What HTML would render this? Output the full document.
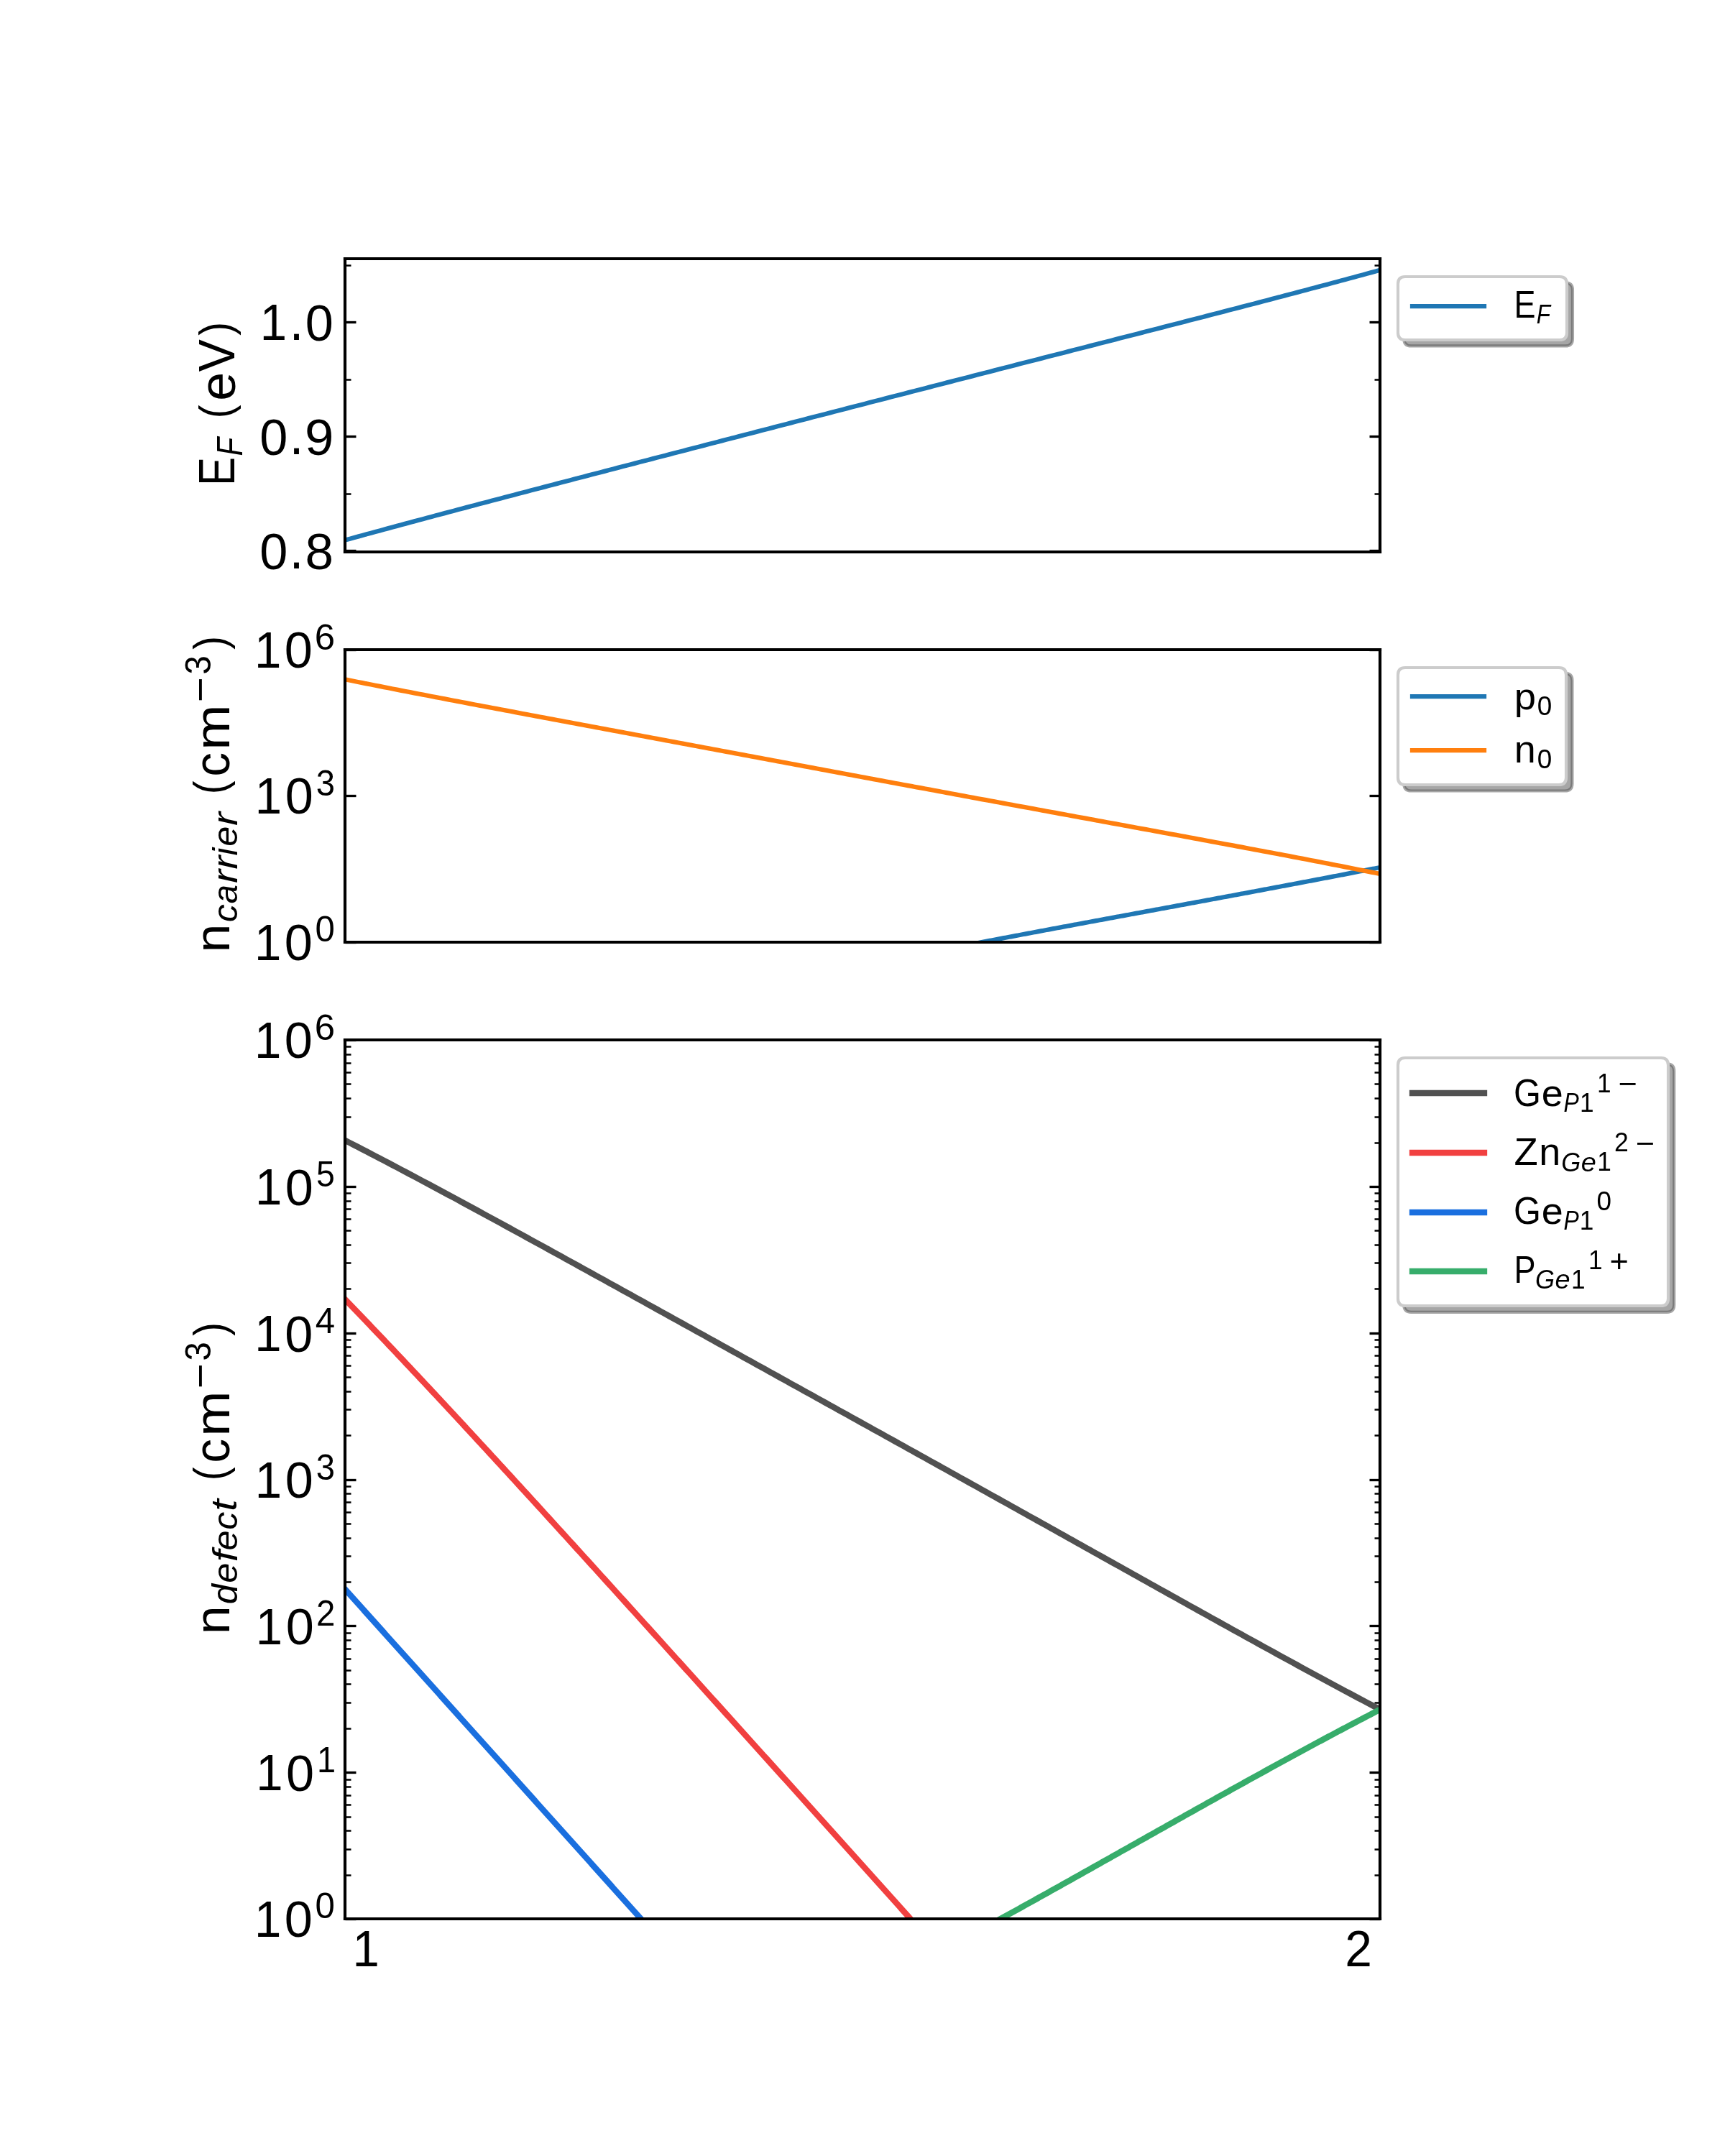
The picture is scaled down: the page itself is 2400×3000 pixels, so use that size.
<!DOCTYPE html>
<html lang="en"><head><meta charset="utf-8"><title>Fermi level, carrier and defect concentrations</title>
<style>
html,body{margin:0;padding:0;background:#fff;width:2400px;height:3000px;overflow:hidden}
body{position:relative}
svg{display:block;position:absolute;left:0;top:0}
#labels{will-change:transform}
text{font-family:"Liberation Sans",sans-serif}
</style>
</head><body>
<svg id="plot" xmlns="http://www.w3.org/2000/svg" width="2400" height="3000" viewBox="0 0 2400 3000">
<rect width="2400" height="3000" fill="#fff"/>
<defs><clipPath id="c0"><rect x="480" y="360" width="1440" height="408"/></clipPath><clipPath id="c1"><rect x="480" y="904" width="1440" height="407"/></clipPath><clipPath id="c2"><rect x="480" y="1447" width="1440" height="1223"/></clipPath></defs>
<path d="M480.5 766.5L495.5 766.5" fill="none" stroke="#000000" stroke-width="3.333"/>
<path d="M1920.5 766.5L1905.5 766.5" fill="none" stroke="#000000" stroke-width="3.333"/>
<path d="M480.5 607.5L495.5 607.5" fill="none" stroke="#000000" stroke-width="3.333"/>
<path d="M1920.5 607.5L1905.5 607.5" fill="none" stroke="#000000" stroke-width="3.333"/>
<path d="M480.5 448.5L495.5 448.5" fill="none" stroke="#000000" stroke-width="3.333"/>
<path d="M1920.5 448.5L1905.5 448.5" fill="none" stroke="#000000" stroke-width="3.333"/>
<path d="M480.5 687.5L488.5 687.5" fill="none" stroke="#000000" stroke-width="2.5"/>
<path d="M1920.5 687.5L1912.5 687.5" fill="none" stroke="#000000" stroke-width="2.5"/>
<path d="M480.5 528.5L488.5 528.5" fill="none" stroke="#000000" stroke-width="2.5"/>
<path d="M1920.5 528.5L1912.5 528.5" fill="none" stroke="#000000" stroke-width="2.5"/>
<path d="M480.5 369.5L488.5 369.5" fill="none" stroke="#000000" stroke-width="2.5"/>
<path d="M1920.5 369.5L1912.5 369.5" fill="none" stroke="#000000" stroke-width="2.5"/>
<path d="M480 751.581L486.025 749.922L492.05 748.266L498.075 746.613L504.1 744.964L510.126 743.317L516.151 741.674L522.176 740.034L528.201 738.396L534.226 736.761L540.251 735.129L546.276 733.499L552.301 731.873L558.326 730.248L564.351 728.626L570.377 727.006L576.402 725.388L582.427 723.773L588.452 722.16L594.477 720.548L600.502 718.939L606.527 717.332L612.552 715.726L618.577 714.123L624.603 712.521L630.628 710.92L636.653 709.321L642.678 707.724L648.703 706.129L654.728 704.534L660.753 702.941L666.778 701.35L672.803 699.76L678.828 698.171L684.854 696.583L690.879 694.997L696.904 693.411L702.929 691.827L708.954 690.243L714.979 688.661L721.004 687.08L727.029 685.499L733.054 683.92L739.079 682.341L745.105 680.763L751.13 679.186L757.155 677.61L763.18 676.034L769.205 674.459L775.23 672.885L781.255 671.311L787.28 669.738L793.305 668.165L799.331 666.593L805.356 665.022L811.381 663.451L817.406 661.88L823.431 660.31L829.456 658.741L835.481 657.172L841.506 655.603L847.531 654.035L853.556 652.467L859.582 650.899L865.607 649.332L871.632 647.765L877.657 646.198L883.682 644.632L889.707 643.066L895.732 641.5L901.757 639.934L907.782 638.369L913.808 636.804L919.833 635.239L925.858 633.675L931.883 632.11L937.908 630.546L943.933 628.982L949.958 627.418L955.983 625.855L962.008 624.291L968.033 622.728L974.059 621.165L980.084 619.602L986.109 618.039L992.134 616.477L998.159 614.914L1004.184 613.352L1010.209 611.79L1016.234 610.228L1022.259 608.667L1028.285 607.105L1034.31 605.544L1040.335 603.983L1046.36 602.421L1052.385 600.861L1058.41 599.3L1064.435 597.739L1070.46 596.179L1076.485 594.619L1082.51 593.059L1088.536 591.499L1094.561 589.939L1100.586 588.38L1106.611 586.821L1112.636 585.262L1118.661 583.703L1124.686 582.144L1130.711 580.586L1136.736 579.027L1142.762 577.469L1148.787 575.912L1154.812 574.354L1160.837 572.797L1166.862 571.24L1172.887 569.683L1178.912 568.126L1184.937 566.57L1190.962 565.014L1196.987 563.458L1203.013 561.902L1209.038 560.347L1215.063 558.792L1221.088 557.237L1227.113 555.683L1233.138 554.128L1239.163 552.575L1245.188 551.021L1251.213 549.468L1257.238 547.914L1263.264 546.362L1269.289 544.809L1275.314 543.257L1281.339 541.705L1287.364 540.154L1293.389 538.602L1299.414 537.052L1305.439 535.501L1311.464 533.951L1317.49 532.401L1323.515 530.851L1329.54 529.302L1335.565 527.752L1341.59 526.204L1347.615 524.655L1353.64 523.107L1359.665 521.559L1365.69 520.012L1371.715 518.464L1377.741 516.917L1383.766 515.37L1389.791 513.824L1395.816 512.278L1401.841 510.732L1407.866 509.186L1413.891 507.641L1419.916 506.095L1425.941 504.55L1431.967 503.005L1437.992 501.461L1444.017 499.916L1450.042 498.372L1456.067 496.828L1462.092 495.284L1468.117 493.74L1474.142 492.197L1480.167 490.653L1486.192 489.11L1492.218 487.566L1498.243 486.023L1504.268 484.48L1510.293 482.936L1516.318 481.393L1522.343 479.85L1528.368 478.306L1534.393 476.763L1540.418 475.219L1546.444 473.675L1552.469 472.132L1558.494 470.587L1564.519 469.043L1570.544 467.499L1576.569 465.954L1582.594 464.409L1588.619 462.863L1594.644 461.317L1600.669 459.771L1606.695 458.224L1612.72 456.677L1618.745 455.13L1624.77 453.581L1630.795 452.032L1636.82 450.483L1642.845 448.933L1648.87 447.382L1654.895 445.83L1660.921 444.278L1666.946 442.724L1672.971 441.17L1678.996 439.614L1685.021 438.058L1691.046 436.501L1697.071 434.942L1703.096 433.382L1709.121 431.821L1715.146 430.259L1721.172 428.695L1727.197 427.13L1733.222 425.563L1739.247 423.995L1745.272 422.425L1751.297 420.854L1757.322 419.28L1763.347 417.705L1769.372 416.128L1775.397 414.549L1781.423 412.968L1787.448 411.384L1793.473 409.799L1799.498 408.211L1805.523 406.621L1811.548 405.028L1817.573 403.433L1823.598 401.835L1829.623 400.235L1835.649 398.631L1841.674 397.025L1847.699 395.416L1853.724 393.803L1859.749 392.188L1865.774 390.569L1871.799 388.946L1877.824 387.32L1883.849 385.691L1889.874 384.058L1895.9 382.421L1901.925 380.78L1907.95 379.135L1913.975 377.486L1920 375.832" fill="none" stroke="#1f77b4" stroke-width="6.25" stroke-linecap="square" stroke-linejoin="round" clip-path="url(#c0)"/>
<path d="M480 768L480 360" fill="none" stroke="#000000" stroke-width="4.167" stroke-linecap="square"/>
<path d="M1920 768L1920 360" fill="none" stroke="#000000" stroke-width="4.167" stroke-linecap="square"/>
<path d="M480 768L1920 768" fill="none" stroke="#000000" stroke-width="4.167" stroke-linecap="square"/>
<path d="M480 360L1920 360" fill="none" stroke="#000000" stroke-width="4.167" stroke-linecap="square"/>
<path d="M1963.333 481.433L2177.945 481.433Q2187.945 481.433 2187.945 471.433L2187.945 403.333Q2187.945 393.333 2177.945 393.333L1963.333 393.333Q1953.333 393.333 1953.333 403.333L1953.333 471.433Q1953.333 481.433 1963.333 481.433Z" fill="#4d4d4d" fill-opacity="0.5" stroke="#4d4d4d" stroke-width="4.167" stroke-opacity="0.5"/>
<path d="M1955 473L2170 473Q2180 473 2180 463L2180 395Q2180 385 2170 385L1955 385Q1945 385 1945 395L1945 463Q1945 473 1955 473Z" fill="#ffffff" stroke="#cccccc" stroke-width="4.167"/>
<path d="M1965 426L2015 426L2065 426" fill="none" stroke="#1f77b4" stroke-width="6.25" stroke-linecap="square" stroke-linejoin="round"/>
<path d="M480.5 1311.5L495.5 1311.5" fill="none" stroke="#000000" stroke-width="3.333"/>
<path d="M1920.5 1311.5L1905.5 1311.5" fill="none" stroke="#000000" stroke-width="3.333"/>
<path d="M480.5 1107.5L495.5 1107.5" fill="none" stroke="#000000" stroke-width="3.333"/>
<path d="M1920.5 1107.5L1905.5 1107.5" fill="none" stroke="#000000" stroke-width="3.333"/>
<path d="M480.5 904.5L495.5 904.5" fill="none" stroke="#000000" stroke-width="3.333"/>
<path d="M1920.5 904.5L1905.5 904.5" fill="none" stroke="#000000" stroke-width="3.333"/>
<path d="M1330 1317.886L1332.469 1317.411L1334.937 1316.937L1337.406 1316.462L1339.874 1315.988L1342.343 1315.514L1344.812 1315.041L1347.28 1314.568L1349.749 1314.096L1352.218 1313.623L1354.686 1313.151L1357.155 1312.679L1359.623 1312.208L1362.092 1311.737L1364.561 1311.266L1367.029 1310.796L1369.498 1310.326L1371.967 1309.856L1374.435 1309.386L1376.904 1308.917L1379.372 1308.448L1381.841 1307.979L1384.31 1307.511L1386.778 1307.043L1389.247 1306.575L1391.715 1306.108L1394.184 1305.64L1396.653 1305.173L1399.121 1304.706L1401.59 1304.24L1404.059 1303.774L1406.527 1303.308L1408.996 1302.842L1411.464 1302.377L1413.933 1301.911L1416.402 1301.446L1418.87 1300.982L1421.339 1300.517L1423.808 1300.053L1426.276 1299.589L1428.745 1299.125L1431.213 1298.661L1433.682 1298.198L1436.151 1297.735L1438.619 1297.272L1441.088 1296.809L1443.556 1296.347L1446.025 1295.884L1448.494 1295.422L1450.962 1294.96L1453.431 1294.498L1455.9 1294.037L1458.368 1293.575L1460.837 1293.114L1463.305 1292.653L1465.774 1292.192L1468.243 1291.732L1470.711 1291.271L1473.18 1290.811L1475.649 1290.351L1478.117 1289.891L1480.586 1289.431L1483.054 1288.971L1485.523 1288.512L1487.992 1288.053L1490.46 1287.593L1492.929 1287.134L1495.397 1286.675L1497.866 1286.216L1500.335 1285.758L1502.803 1285.299L1505.272 1284.841L1507.741 1284.382L1510.209 1283.924L1512.678 1283.466L1515.146 1283.008L1517.615 1282.55L1520.084 1282.093L1522.552 1281.635L1525.021 1281.178L1527.49 1280.72L1529.958 1280.263L1532.427 1279.805L1534.895 1279.348L1537.364 1278.891L1539.833 1278.434L1542.301 1277.977L1544.77 1277.52L1547.238 1277.064L1549.707 1276.607L1552.176 1276.15L1554.644 1275.694L1557.113 1275.237L1559.582 1274.781L1562.05 1274.324L1564.519 1273.868L1566.987 1273.411L1569.456 1272.955L1571.925 1272.499L1574.393 1272.043L1576.862 1271.586L1579.331 1271.13L1581.799 1270.674L1584.268 1270.218L1586.736 1269.762L1589.205 1269.306L1591.674 1268.85L1594.142 1268.394L1596.611 1267.938L1599.079 1267.482L1601.548 1267.026L1604.017 1266.569L1606.485 1266.113L1608.954 1265.657L1611.423 1265.201L1613.891 1264.745L1616.36 1264.289L1618.828 1263.833L1621.297 1263.377L1623.766 1262.92L1626.234 1262.464L1628.703 1262.008L1631.172 1261.552L1633.64 1261.095L1636.109 1260.639L1638.577 1260.182L1641.046 1259.726L1643.515 1259.269L1645.983 1258.813L1648.452 1258.356L1650.921 1257.899L1653.389 1257.442L1655.858 1256.985L1658.326 1256.528L1660.795 1256.071L1663.264 1255.614L1665.732 1255.157L1668.201 1254.7L1670.669 1254.242L1673.138 1253.785L1675.607 1253.327L1678.075 1252.87L1680.544 1252.412L1683.013 1251.954L1685.481 1251.496L1687.95 1251.038L1690.418 1250.579L1692.887 1250.121L1695.356 1249.663L1697.824 1249.204L1700.293 1248.745L1702.762 1248.286L1705.23 1247.827L1707.699 1247.368L1710.167 1246.909L1712.636 1246.449L1715.105 1245.99L1717.573 1245.53L1720.042 1245.07L1722.51 1244.61L1724.979 1244.15L1727.448 1243.689L1729.916 1243.229L1732.385 1242.768L1734.854 1242.307L1737.322 1241.846L1739.791 1241.385L1742.259 1240.923L1744.728 1240.462L1747.197 1240L1749.665 1239.538L1752.134 1239.076L1754.603 1238.613L1757.071 1238.15L1759.54 1237.688L1762.008 1237.225L1764.477 1236.761L1766.946 1236.298L1769.414 1235.834L1771.883 1235.37L1774.351 1234.906L1776.82 1234.441L1779.289 1233.977L1781.757 1233.512L1784.226 1233.047L1786.695 1232.581L1789.163 1232.116L1791.632 1231.65L1794.1 1231.184L1796.569 1230.718L1799.038 1230.251L1801.506 1229.784L1803.975 1229.317L1806.444 1228.849L1808.912 1228.382L1811.381 1227.914L1813.849 1227.445L1816.318 1226.977L1818.787 1226.508L1821.255 1226.039L1823.724 1225.57L1826.192 1225.1L1828.661 1224.63L1831.13 1224.16L1833.598 1223.689L1836.067 1223.218L1838.536 1222.747L1841.004 1222.275L1843.473 1221.803L1845.941 1221.331L1848.41 1220.859L1850.879 1220.386L1853.347 1219.913L1855.816 1219.439L1858.285 1218.965L1860.753 1218.491L1863.222 1218.017L1865.69 1217.542L1868.159 1217.066L1870.628 1216.591L1873.096 1216.115L1875.565 1215.639L1878.033 1215.162L1880.502 1214.685L1882.971 1214.207L1885.439 1213.73L1887.908 1213.252L1890.377 1212.773L1892.845 1212.294L1895.314 1211.815L1897.782 1211.335L1900.251 1210.855L1902.72 1210.375L1905.188 1209.894L1907.657 1209.412L1910.126 1208.931L1912.594 1208.449L1915.063 1207.966L1917.531 1207.483L1920 1207" fill="none" stroke="#1f77b4" stroke-width="6.25" stroke-linecap="square" stroke-linejoin="round" clip-path="url(#c1)"/>
<path d="M480 945.333L486.025 946.543L492.05 947.75L498.075 948.954L504.1 950.154L510.126 951.35L516.151 952.543L522.176 953.734L528.201 954.921L534.226 956.105L540.251 957.286L546.276 958.465L552.301 959.641L558.326 960.814L564.351 961.985L570.377 963.154L576.402 964.32L582.427 965.484L588.452 966.646L594.477 967.806L600.502 968.963L606.527 970.119L612.552 971.274L618.577 972.426L624.603 973.577L630.628 974.726L636.653 975.874L642.678 977.02L648.703 978.165L654.728 979.308L660.753 980.45L666.778 981.591L672.803 982.731L678.828 983.87L684.854 985.008L690.879 986.144L696.904 987.28L702.929 988.415L708.954 989.549L714.979 990.682L721.004 991.815L727.029 992.947L733.054 994.078L739.079 995.208L745.105 996.338L751.13 997.467L757.155 998.596L763.18 999.725L769.205 1000.853L775.23 1001.98L781.255 1003.107L787.28 1004.234L793.305 1005.361L799.331 1006.487L805.356 1007.613L811.381 1008.739L817.406 1009.864L823.431 1010.989L829.456 1012.115L835.481 1013.24L841.506 1014.365L847.531 1015.489L853.556 1016.614L859.582 1017.739L865.607 1018.863L871.632 1019.988L877.657 1021.112L883.682 1022.237L889.707 1023.361L895.732 1024.486L901.757 1025.61L907.782 1026.735L913.808 1027.859L919.833 1028.984L925.858 1030.108L931.883 1031.233L937.908 1032.358L943.933 1033.482L949.958 1034.607L955.983 1035.732L962.008 1036.857L968.033 1037.982L974.059 1039.107L980.084 1040.232L986.109 1041.357L992.134 1042.483L998.159 1043.608L1004.184 1044.733L1010.209 1045.859L1016.234 1046.984L1022.259 1048.11L1028.285 1049.235L1034.31 1050.361L1040.335 1051.486L1046.36 1052.612L1052.385 1053.738L1058.41 1054.863L1064.435 1055.989L1070.46 1057.115L1076.485 1058.24L1082.51 1059.366L1088.536 1060.491L1094.561 1061.617L1100.586 1062.742L1106.611 1063.868L1112.636 1064.993L1118.661 1066.118L1124.686 1067.244L1130.711 1068.369L1136.736 1069.494L1142.762 1070.619L1148.787 1071.743L1154.812 1072.868L1160.837 1073.992L1166.862 1075.117L1172.887 1076.241L1178.912 1077.365L1184.937 1078.488L1190.962 1079.612L1196.987 1080.735L1203.013 1081.858L1209.038 1082.981L1215.063 1084.104L1221.088 1085.226L1227.113 1086.348L1233.138 1087.47L1239.163 1088.591L1245.188 1089.713L1251.213 1090.834L1257.238 1091.954L1263.264 1093.075L1269.289 1094.195L1275.314 1095.314L1281.339 1096.434L1287.364 1097.552L1293.389 1098.671L1299.414 1099.789L1305.439 1100.907L1311.464 1102.025L1317.49 1103.142L1323.515 1104.259L1329.54 1105.375L1335.565 1106.491L1341.59 1107.606L1347.615 1108.722L1353.64 1109.836L1359.665 1110.951L1365.69 1112.065L1371.715 1113.178L1377.741 1114.292L1383.766 1115.404L1389.791 1116.517L1395.816 1117.629L1401.841 1118.741L1407.866 1119.852L1413.891 1120.963L1419.916 1122.073L1425.941 1123.184L1431.967 1124.293L1437.992 1125.403L1444.017 1126.512L1450.042 1127.621L1456.067 1128.729L1462.092 1129.837L1468.117 1130.945L1474.142 1132.053L1480.167 1133.16L1486.192 1134.268L1492.218 1135.374L1498.243 1136.481L1504.268 1137.588L1510.293 1138.694L1516.318 1139.8L1522.343 1140.906L1528.368 1142.012L1534.393 1143.118L1540.418 1144.224L1546.444 1145.33L1552.469 1146.436L1558.494 1147.542L1564.519 1148.648L1570.544 1149.754L1576.569 1150.86L1582.594 1151.967L1588.619 1153.074L1594.644 1154.18L1600.669 1155.288L1606.695 1156.395L1612.72 1157.503L1618.745 1158.611L1624.77 1159.72L1630.795 1160.829L1636.82 1161.939L1642.845 1163.05L1648.87 1164.161L1654.895 1165.273L1660.921 1166.385L1666.946 1167.499L1672.971 1168.613L1678.996 1169.728L1685.021 1170.845L1691.046 1171.962L1697.071 1173.081L1703.096 1174.2L1709.121 1175.321L1715.146 1176.443L1721.172 1177.567L1727.197 1178.692L1733.222 1179.819L1739.247 1180.947L1745.272 1182.078L1751.297 1183.209L1757.322 1184.343L1763.347 1185.479L1769.372 1186.617L1775.397 1187.757L1781.423 1188.899L1787.448 1190.043L1793.473 1191.19L1799.498 1192.34L1805.523 1193.492L1811.548 1194.646L1817.573 1195.804L1823.598 1196.965L1829.623 1198.128L1835.649 1199.295L1841.674 1200.465L1847.699 1201.638L1853.724 1202.815L1859.749 1203.995L1865.774 1205.18L1871.799 1206.368L1877.824 1207.559L1883.849 1208.756L1889.874 1209.956L1895.9 1211.161L1901.925 1212.37L1907.95 1213.584L1913.975 1214.802L1920 1216.026" fill="none" stroke="#ff7f0e" stroke-width="6.25" stroke-linecap="square" stroke-linejoin="round" clip-path="url(#c1)"/>
<path d="M480 1311L480 904" fill="none" stroke="#000000" stroke-width="4.167" stroke-linecap="square"/>
<path d="M1920 1311L1920 904" fill="none" stroke="#000000" stroke-width="4.167" stroke-linecap="square"/>
<path d="M480 1311L1920 1311" fill="none" stroke="#000000" stroke-width="4.167" stroke-linecap="square"/>
<path d="M480 904L1920 904" fill="none" stroke="#000000" stroke-width="4.167" stroke-linecap="square"/>
<path d="M1963.333 1100.463L2177.419 1100.463Q2187.419 1100.463 2187.419 1090.463L2187.419 946.863Q2187.419 936.863 2177.419 936.863L1963.333 936.863Q1953.333 936.863 1953.333 946.863L1953.333 1090.463Q1953.333 1100.463 1963.333 1100.463Z" fill="#4d4d4d" fill-opacity="0.5" stroke="#4d4d4d" stroke-width="4.167" stroke-opacity="0.5"/>
<path d="M1955 1092L2169 1092Q2179 1092 2179 1082L2179 939Q2179 929 2169 929L1955 929Q1945 929 1945 939L1945 1082Q1945 1092 1955 1092Z" fill="#ffffff" stroke="#cccccc" stroke-width="4.167"/>
<path d="M1965 969L2015 969L2065 969" fill="none" stroke="#1f77b4" stroke-width="6.25" stroke-linecap="square" stroke-linejoin="round"/>
<path d="M1965 1044L2015 1044L2065 1044" fill="none" stroke="#ff7f0e" stroke-width="6.25" stroke-linecap="square" stroke-linejoin="round"/>
<path d="M480.5 2670.5L495.5 2670.5" fill="none" stroke="#000000" stroke-width="3.333"/>
<path d="M1920.5 2670.5L1905.5 2670.5" fill="none" stroke="#000000" stroke-width="3.333"/>
<path d="M480.5 2466.5L495.5 2466.5" fill="none" stroke="#000000" stroke-width="3.333"/>
<path d="M1920.5 2466.5L1905.5 2466.5" fill="none" stroke="#000000" stroke-width="3.333"/>
<path d="M480.5 2262.5L495.5 2262.5" fill="none" stroke="#000000" stroke-width="3.333"/>
<path d="M1920.5 2262.5L1905.5 2262.5" fill="none" stroke="#000000" stroke-width="3.333"/>
<path d="M480.5 2059.5L495.5 2059.5" fill="none" stroke="#000000" stroke-width="3.333"/>
<path d="M1920.5 2059.5L1905.5 2059.5" fill="none" stroke="#000000" stroke-width="3.333"/>
<path d="M480.5 1855.5L495.5 1855.5" fill="none" stroke="#000000" stroke-width="3.333"/>
<path d="M1920.5 1855.5L1905.5 1855.5" fill="none" stroke="#000000" stroke-width="3.333"/>
<path d="M480.5 1651.5L495.5 1651.5" fill="none" stroke="#000000" stroke-width="3.333"/>
<path d="M1920.5 1651.5L1905.5 1651.5" fill="none" stroke="#000000" stroke-width="3.333"/>
<path d="M480.5 1447.5L495.5 1447.5" fill="none" stroke="#000000" stroke-width="3.333"/>
<path d="M1920.5 1447.5L1905.5 1447.5" fill="none" stroke="#000000" stroke-width="3.333"/>
<path d="M480.5 2609.5L488.5 2609.5" fill="none" stroke="#000000" stroke-width="2.5"/>
<path d="M1920.5 2609.5L1912.5 2609.5" fill="none" stroke="#000000" stroke-width="2.5"/>
<path d="M480.5 2573.5L488.5 2573.5" fill="none" stroke="#000000" stroke-width="2.5"/>
<path d="M1920.5 2573.5L1912.5 2573.5" fill="none" stroke="#000000" stroke-width="2.5"/>
<path d="M480.5 2547.5L488.5 2547.5" fill="none" stroke="#000000" stroke-width="2.5"/>
<path d="M1920.5 2547.5L1912.5 2547.5" fill="none" stroke="#000000" stroke-width="2.5"/>
<path d="M480.5 2528.5L488.5 2528.5" fill="none" stroke="#000000" stroke-width="2.5"/>
<path d="M1920.5 2528.5L1912.5 2528.5" fill="none" stroke="#000000" stroke-width="2.5"/>
<path d="M480.5 2511.5L488.5 2511.5" fill="none" stroke="#000000" stroke-width="2.5"/>
<path d="M1920.5 2511.5L1912.5 2511.5" fill="none" stroke="#000000" stroke-width="2.5"/>
<path d="M480.5 2498.5L488.5 2498.5" fill="none" stroke="#000000" stroke-width="2.5"/>
<path d="M1920.5 2498.5L1912.5 2498.5" fill="none" stroke="#000000" stroke-width="2.5"/>
<path d="M480.5 2486.5L488.5 2486.5" fill="none" stroke="#000000" stroke-width="2.5"/>
<path d="M1920.5 2486.5L1912.5 2486.5" fill="none" stroke="#000000" stroke-width="2.5"/>
<path d="M480.5 2476.5L488.5 2476.5" fill="none" stroke="#000000" stroke-width="2.5"/>
<path d="M1920.5 2476.5L1912.5 2476.5" fill="none" stroke="#000000" stroke-width="2.5"/>
<path d="M480.5 2405.5L488.5 2405.5" fill="none" stroke="#000000" stroke-width="2.5"/>
<path d="M1920.5 2405.5L1912.5 2405.5" fill="none" stroke="#000000" stroke-width="2.5"/>
<path d="M480.5 2369.5L488.5 2369.5" fill="none" stroke="#000000" stroke-width="2.5"/>
<path d="M1920.5 2369.5L1912.5 2369.5" fill="none" stroke="#000000" stroke-width="2.5"/>
<path d="M480.5 2343.5L488.5 2343.5" fill="none" stroke="#000000" stroke-width="2.5"/>
<path d="M1920.5 2343.5L1912.5 2343.5" fill="none" stroke="#000000" stroke-width="2.5"/>
<path d="M480.5 2324.5L488.5 2324.5" fill="none" stroke="#000000" stroke-width="2.5"/>
<path d="M1920.5 2324.5L1912.5 2324.5" fill="none" stroke="#000000" stroke-width="2.5"/>
<path d="M480.5 2308.5L488.5 2308.5" fill="none" stroke="#000000" stroke-width="2.5"/>
<path d="M1920.5 2308.5L1912.5 2308.5" fill="none" stroke="#000000" stroke-width="2.5"/>
<path d="M480.5 2294.5L488.5 2294.5" fill="none" stroke="#000000" stroke-width="2.5"/>
<path d="M1920.5 2294.5L1912.5 2294.5" fill="none" stroke="#000000" stroke-width="2.5"/>
<path d="M480.5 2282.5L488.5 2282.5" fill="none" stroke="#000000" stroke-width="2.5"/>
<path d="M1920.5 2282.5L1912.5 2282.5" fill="none" stroke="#000000" stroke-width="2.5"/>
<path d="M480.5 2272.5L488.5 2272.5" fill="none" stroke="#000000" stroke-width="2.5"/>
<path d="M1920.5 2272.5L1912.5 2272.5" fill="none" stroke="#000000" stroke-width="2.5"/>
<path d="M480.5 2201.5L488.5 2201.5" fill="none" stroke="#000000" stroke-width="2.5"/>
<path d="M1920.5 2201.5L1912.5 2201.5" fill="none" stroke="#000000" stroke-width="2.5"/>
<path d="M480.5 2165.5L488.5 2165.5" fill="none" stroke="#000000" stroke-width="2.5"/>
<path d="M1920.5 2165.5L1912.5 2165.5" fill="none" stroke="#000000" stroke-width="2.5"/>
<path d="M480.5 2140.5L488.5 2140.5" fill="none" stroke="#000000" stroke-width="2.5"/>
<path d="M1920.5 2140.5L1912.5 2140.5" fill="none" stroke="#000000" stroke-width="2.5"/>
<path d="M480.5 2120.5L488.5 2120.5" fill="none" stroke="#000000" stroke-width="2.5"/>
<path d="M1920.5 2120.5L1912.5 2120.5" fill="none" stroke="#000000" stroke-width="2.5"/>
<path d="M480.5 2104.5L488.5 2104.5" fill="none" stroke="#000000" stroke-width="2.5"/>
<path d="M1920.5 2104.5L1912.5 2104.5" fill="none" stroke="#000000" stroke-width="2.5"/>
<path d="M480.5 2090.5L488.5 2090.5" fill="none" stroke="#000000" stroke-width="2.5"/>
<path d="M1920.5 2090.5L1912.5 2090.5" fill="none" stroke="#000000" stroke-width="2.5"/>
<path d="M480.5 2078.5L488.5 2078.5" fill="none" stroke="#000000" stroke-width="2.5"/>
<path d="M1920.5 2078.5L1912.5 2078.5" fill="none" stroke="#000000" stroke-width="2.5"/>
<path d="M480.5 2068.5L488.5 2068.5" fill="none" stroke="#000000" stroke-width="2.5"/>
<path d="M1920.5 2068.5L1912.5 2068.5" fill="none" stroke="#000000" stroke-width="2.5"/>
<path d="M480.5 1997.5L488.5 1997.5" fill="none" stroke="#000000" stroke-width="2.5"/>
<path d="M1920.5 1997.5L1912.5 1997.5" fill="none" stroke="#000000" stroke-width="2.5"/>
<path d="M480.5 1961.5L488.5 1961.5" fill="none" stroke="#000000" stroke-width="2.5"/>
<path d="M1920.5 1961.5L1912.5 1961.5" fill="none" stroke="#000000" stroke-width="2.5"/>
<path d="M480.5 1936.5L488.5 1936.5" fill="none" stroke="#000000" stroke-width="2.5"/>
<path d="M1920.5 1936.5L1912.5 1936.5" fill="none" stroke="#000000" stroke-width="2.5"/>
<path d="M480.5 1916.5L488.5 1916.5" fill="none" stroke="#000000" stroke-width="2.5"/>
<path d="M1920.5 1916.5L1912.5 1916.5" fill="none" stroke="#000000" stroke-width="2.5"/>
<path d="M480.5 1900.5L488.5 1900.5" fill="none" stroke="#000000" stroke-width="2.5"/>
<path d="M1920.5 1900.5L1912.5 1900.5" fill="none" stroke="#000000" stroke-width="2.5"/>
<path d="M480.5 1886.5L488.5 1886.5" fill="none" stroke="#000000" stroke-width="2.5"/>
<path d="M1920.5 1886.5L1912.5 1886.5" fill="none" stroke="#000000" stroke-width="2.5"/>
<path d="M480.5 1874.5L488.5 1874.5" fill="none" stroke="#000000" stroke-width="2.5"/>
<path d="M1920.5 1874.5L1912.5 1874.5" fill="none" stroke="#000000" stroke-width="2.5"/>
<path d="M480.5 1864.5L488.5 1864.5" fill="none" stroke="#000000" stroke-width="2.5"/>
<path d="M1920.5 1864.5L1912.5 1864.5" fill="none" stroke="#000000" stroke-width="2.5"/>
<path d="M480.5 1793.5L488.5 1793.5" fill="none" stroke="#000000" stroke-width="2.5"/>
<path d="M1920.5 1793.5L1912.5 1793.5" fill="none" stroke="#000000" stroke-width="2.5"/>
<path d="M480.5 1757.5L488.5 1757.5" fill="none" stroke="#000000" stroke-width="2.5"/>
<path d="M1920.5 1757.5L1912.5 1757.5" fill="none" stroke="#000000" stroke-width="2.5"/>
<path d="M480.5 1732.5L488.5 1732.5" fill="none" stroke="#000000" stroke-width="2.5"/>
<path d="M1920.5 1732.5L1912.5 1732.5" fill="none" stroke="#000000" stroke-width="2.5"/>
<path d="M480.5 1712.5L488.5 1712.5" fill="none" stroke="#000000" stroke-width="2.5"/>
<path d="M1920.5 1712.5L1912.5 1712.5" fill="none" stroke="#000000" stroke-width="2.5"/>
<path d="M480.5 1696.5L488.5 1696.5" fill="none" stroke="#000000" stroke-width="2.5"/>
<path d="M1920.5 1696.5L1912.5 1696.5" fill="none" stroke="#000000" stroke-width="2.5"/>
<path d="M480.5 1682.5L488.5 1682.5" fill="none" stroke="#000000" stroke-width="2.5"/>
<path d="M1920.5 1682.5L1912.5 1682.5" fill="none" stroke="#000000" stroke-width="2.5"/>
<path d="M480.5 1671.5L488.5 1671.5" fill="none" stroke="#000000" stroke-width="2.5"/>
<path d="M1920.5 1671.5L1912.5 1671.5" fill="none" stroke="#000000" stroke-width="2.5"/>
<path d="M480.5 1660.5L488.5 1660.5" fill="none" stroke="#000000" stroke-width="2.5"/>
<path d="M1920.5 1660.5L1912.5 1660.5" fill="none" stroke="#000000" stroke-width="2.5"/>
<path d="M480.5 1590.5L488.5 1590.5" fill="none" stroke="#000000" stroke-width="2.5"/>
<path d="M1920.5 1590.5L1912.5 1590.5" fill="none" stroke="#000000" stroke-width="2.5"/>
<path d="M480.5 1554.5L488.5 1554.5" fill="none" stroke="#000000" stroke-width="2.5"/>
<path d="M1920.5 1554.5L1912.5 1554.5" fill="none" stroke="#000000" stroke-width="2.5"/>
<path d="M480.5 1528.5L488.5 1528.5" fill="none" stroke="#000000" stroke-width="2.5"/>
<path d="M1920.5 1528.5L1912.5 1528.5" fill="none" stroke="#000000" stroke-width="2.5"/>
<path d="M480.5 1508.5L488.5 1508.5" fill="none" stroke="#000000" stroke-width="2.5"/>
<path d="M1920.5 1508.5L1912.5 1508.5" fill="none" stroke="#000000" stroke-width="2.5"/>
<path d="M480.5 1492.5L488.5 1492.5" fill="none" stroke="#000000" stroke-width="2.5"/>
<path d="M1920.5 1492.5L1912.5 1492.5" fill="none" stroke="#000000" stroke-width="2.5"/>
<path d="M480.5 1479.5L488.5 1479.5" fill="none" stroke="#000000" stroke-width="2.5"/>
<path d="M1920.5 1479.5L1912.5 1479.5" fill="none" stroke="#000000" stroke-width="2.5"/>
<path d="M480.5 1467.5L488.5 1467.5" fill="none" stroke="#000000" stroke-width="2.5"/>
<path d="M1920.5 1467.5L1912.5 1467.5" fill="none" stroke="#000000" stroke-width="2.5"/>
<path d="M480.5 1456.5L488.5 1456.5" fill="none" stroke="#000000" stroke-width="2.5"/>
<path d="M1920.5 1456.5L1912.5 1456.5" fill="none" stroke="#000000" stroke-width="2.5"/>
<path d="M480 1586.784L486.025 1589.871L492.05 1592.967L498.075 1596.073L504.1 1599.187L510.126 1602.309L516.151 1605.44L522.176 1608.579L528.201 1611.725L534.226 1614.879L540.251 1618.041L546.276 1621.209L552.301 1624.385L558.326 1627.567L564.351 1630.756L570.377 1633.951L576.402 1637.152L582.427 1640.359L588.452 1643.571L594.477 1646.79L600.502 1650.013L606.527 1653.242L612.552 1656.476L618.577 1659.715L624.603 1662.958L630.628 1666.206L636.653 1669.458L642.678 1672.715L648.703 1675.975L654.728 1679.24L660.753 1682.508L666.778 1685.78L672.803 1689.055L678.828 1692.334L684.854 1695.615L690.879 1698.9L696.904 1702.188L702.929 1705.479L708.954 1708.773L714.979 1712.069L721.004 1715.368L727.029 1718.669L733.054 1721.972L739.079 1725.278L745.105 1728.586L751.13 1731.895L757.155 1735.207L763.18 1738.52L769.205 1741.835L775.23 1745.152L781.255 1748.471L787.28 1751.791L793.305 1755.112L799.331 1758.434L805.356 1761.758L811.381 1765.083L817.406 1768.41L823.431 1771.737L829.456 1775.065L835.481 1778.394L841.506 1781.724L847.531 1785.055L853.556 1788.387L859.582 1791.72L865.607 1795.053L871.632 1798.386L877.657 1801.721L883.682 1805.056L889.707 1808.391L895.732 1811.727L901.757 1815.063L907.782 1818.4L913.808 1821.737L919.833 1825.074L925.858 1828.412L931.883 1831.75L937.908 1835.088L943.933 1838.427L949.958 1841.766L955.983 1845.104L962.008 1848.444L968.033 1851.783L974.059 1855.122L980.084 1858.462L986.109 1861.801L992.134 1865.141L998.159 1868.481L1004.184 1871.821L1010.209 1875.161L1016.234 1878.501L1022.259 1881.841L1028.285 1885.181L1034.31 1888.522L1040.335 1891.862L1046.36 1895.202L1052.385 1898.543L1058.41 1901.883L1064.435 1905.224L1070.46 1908.565L1076.485 1911.906L1082.51 1915.246L1088.536 1918.587L1094.561 1921.928L1100.586 1925.27L1106.611 1928.611L1112.636 1931.952L1118.661 1935.294L1124.686 1938.635L1130.711 1941.977L1136.736 1945.319L1142.762 1948.661L1148.787 1952.004L1154.812 1955.346L1160.837 1958.689L1166.862 1962.032L1172.887 1965.375L1178.912 1968.718L1184.937 1972.062L1190.962 1975.406L1196.987 1978.75L1203.013 1982.095L1209.038 1985.44L1215.063 1988.785L1221.088 1992.13L1227.113 1995.476L1233.138 1998.823L1239.163 2002.169L1245.188 2005.516L1251.213 2008.864L1257.238 2012.212L1263.264 2015.56L1269.289 2018.909L1275.314 2022.258L1281.339 2025.608L1287.364 2028.958L1293.389 2032.309L1299.414 2035.66L1305.439 2039.012L1311.464 2042.364L1317.49 2045.717L1323.515 2049.07L1329.54 2052.424L1335.565 2055.778L1341.59 2059.133L1347.615 2062.489L1353.64 2065.845L1359.665 2069.201L1365.69 2072.558L1371.715 2075.916L1377.741 2079.274L1383.766 2082.633L1389.791 2085.993L1395.816 2089.353L1401.841 2092.713L1407.866 2096.074L1413.891 2099.436L1419.916 2102.798L1425.941 2106.161L1431.967 2109.524L1437.992 2112.887L1444.017 2116.251L1450.042 2119.616L1456.067 2122.981L1462.092 2126.346L1468.117 2129.712L1474.142 2133.078L1480.167 2136.445L1486.192 2139.812L1492.218 2143.179L1498.243 2146.546L1504.268 2149.914L1510.293 2153.282L1516.318 2156.65L1522.343 2160.018L1528.368 2163.386L1534.393 2166.754L1540.418 2170.123L1546.444 2173.491L1552.469 2176.859L1558.494 2180.227L1564.519 2183.595L1570.544 2186.963L1576.569 2190.33L1582.594 2193.697L1588.619 2197.064L1594.644 2200.43L1600.669 2203.795L1606.695 2207.16L1612.72 2210.525L1618.745 2213.888L1624.77 2217.251L1630.795 2220.613L1636.82 2223.973L1642.845 2227.333L1648.87 2230.692L1654.895 2234.049L1660.921 2237.405L1666.946 2240.76L1672.971 2244.113L1678.996 2247.464L1685.021 2250.814L1691.046 2254.161L1697.071 2257.507L1703.096 2260.851L1709.121 2264.193L1715.146 2267.532L1721.172 2270.869L1727.197 2274.203L1733.222 2277.535L1739.247 2280.864L1745.272 2284.189L1751.297 2287.512L1757.322 2290.832L1763.347 2294.148L1769.372 2297.461L1775.397 2300.77L1781.423 2304.075L1787.448 2307.376L1793.473 2310.673L1799.498 2313.966L1805.523 2317.254L1811.548 2320.537L1817.573 2323.816L1823.598 2327.09L1829.623 2330.358L1835.649 2333.621L1841.674 2336.879L1847.699 2340.13L1853.724 2343.376L1859.749 2346.616L1865.774 2349.849L1871.799 2353.075L1877.824 2356.295L1883.849 2359.507L1889.874 2362.712L1895.9 2365.91L1901.925 2369.1L1907.95 2372.282L1913.975 2375.455L1920 2378.62" fill="none" stroke="#515151" stroke-width="8.333" stroke-linecap="square" stroke-linejoin="round" clip-path="url(#c2)"/>
<path d="M480 1807.882L483.368 1811.374L486.736 1814.869L490.105 1818.368L493.473 1821.872L496.841 1825.379L500.209 1828.89L503.577 1832.405L506.946 1835.924L510.314 1839.446L513.682 1842.972L517.05 1846.502L520.418 1850.035L523.787 1853.572L527.155 1857.113L530.523 1860.657L533.891 1864.204L537.259 1867.755L540.628 1871.309L543.996 1874.866L547.364 1878.427L550.732 1881.991L554.1 1885.558L557.469 1889.128L560.837 1892.701L564.205 1896.278L567.573 1899.857L570.941 1903.439L574.31 1907.025L577.678 1910.613L581.046 1914.204L584.414 1917.798L587.782 1921.394L591.151 1924.994L594.519 1928.596L597.887 1932.201L601.255 1935.808L604.623 1939.418L607.992 1943.03L611.36 1946.646L614.728 1950.263L618.096 1953.883L621.464 1957.505L624.833 1961.13L628.201 1964.757L631.569 1968.387L634.937 1972.018L638.305 1975.652L641.674 1979.289L645.042 1982.927L648.41 1986.567L651.778 1990.21L655.146 1993.855L658.515 1997.501L661.883 2001.15L665.251 2004.801L668.619 2008.453L671.987 2012.108L675.356 2015.764L678.724 2019.422L682.092 2023.083L685.46 2026.744L688.828 2030.408L692.197 2034.073L695.565 2037.741L698.933 2041.409L702.301 2045.08L705.669 2048.752L709.038 2052.425L712.406 2056.1L715.774 2059.777L719.142 2063.455L722.51 2067.135L725.879 2070.816L729.247 2074.499L732.615 2078.183L735.983 2081.868L739.351 2085.555L742.72 2089.243L746.088 2092.932L749.456 2096.622L752.824 2100.314L756.192 2104.007L759.561 2107.701L762.929 2111.397L766.297 2115.093L769.665 2118.791L773.033 2122.49L776.402 2126.19L779.77 2129.891L783.138 2133.593L786.506 2137.296L789.874 2141L793.243 2144.705L796.611 2148.41L799.979 2152.117L803.347 2155.825L806.715 2159.534L810.084 2163.243L813.452 2166.954L816.82 2170.665L820.188 2174.377L823.556 2178.09L826.925 2181.803L830.293 2185.518L833.661 2189.233L837.029 2192.949L840.397 2196.665L843.766 2200.382L847.134 2204.1L850.502 2207.819L853.87 2211.538L857.238 2215.258L860.607 2218.979L863.975 2222.7L867.343 2226.421L870.711 2230.143L874.079 2233.866L877.448 2237.59L880.816 2241.313L884.184 2245.038L887.552 2248.763L890.921 2252.488L894.289 2256.214L897.657 2259.94L901.025 2263.667L904.393 2267.394L907.762 2271.121L911.13 2274.849L914.498 2278.578L917.866 2282.307L921.234 2286.036L924.603 2289.765L927.971 2293.495L931.339 2297.225L934.707 2300.956L938.075 2304.687L941.444 2308.418L944.812 2312.15L948.18 2315.882L951.548 2319.614L954.916 2323.347L958.285 2327.079L961.653 2330.812L965.021 2334.546L968.389 2338.279L971.757 2342.013L975.126 2345.747L978.494 2349.482L981.862 2353.216L985.23 2356.951L988.598 2360.686L991.967 2364.422L995.335 2368.157L998.703 2371.893L1002.071 2375.629L1005.439 2379.365L1008.808 2383.102L1012.176 2386.838L1015.544 2390.575L1018.912 2394.312L1022.28 2398.05L1025.649 2401.787L1029.017 2405.525L1032.385 2409.263L1035.753 2413.001L1039.121 2416.739L1042.49 2420.477L1045.858 2424.216L1049.226 2427.955L1052.594 2431.694L1055.962 2435.433L1059.331 2439.173L1062.699 2442.913L1066.067 2446.652L1069.435 2450.393L1072.803 2454.133L1076.172 2457.873L1079.54 2461.614L1082.908 2465.355L1086.276 2469.096L1089.644 2472.838L1093.013 2476.579L1096.381 2480.321L1099.749 2484.063L1103.117 2487.806L1106.485 2491.548L1109.854 2495.291L1113.222 2499.034L1116.59 2502.778L1119.958 2506.522L1123.326 2510.266L1126.695 2514.01L1130.063 2517.754L1133.431 2521.499L1136.799 2525.244L1140.167 2528.99L1143.536 2532.736L1146.904 2536.482L1150.272 2540.228L1153.64 2543.975L1157.008 2547.722L1160.377 2551.47L1163.745 2555.218L1167.113 2558.966L1170.481 2562.715L1173.849 2566.464L1177.218 2570.214L1180.586 2573.964L1183.954 2577.715L1187.322 2581.466L1190.69 2585.217L1194.059 2588.969L1197.427 2592.721L1200.795 2596.474L1204.163 2600.228L1207.531 2603.982L1210.9 2607.737L1214.268 2611.492L1217.636 2615.247L1221.004 2619.004L1224.372 2622.761L1227.741 2626.518L1231.109 2630.276L1234.477 2634.035L1237.845 2637.795L1241.213 2641.555L1244.582 2645.316L1247.95 2649.078L1251.318 2652.84L1254.686 2656.604L1258.054 2660.367L1261.423 2664.132L1264.791 2667.898L1268.159 2671.664L1271.527 2675.432L1274.895 2679.2L1278.264 2682.969L1281.632 2686.739L1285 2690.51" fill="none" stroke="#f14040" stroke-width="8.333" stroke-linecap="square" stroke-linejoin="round" clip-path="url(#c2)"/>
<path d="M480 2211.279L481.799 2213.283L483.598 2215.287L485.397 2217.292L487.197 2219.296L488.996 2221.3L490.795 2223.304L492.594 2225.309L494.393 2227.313L496.192 2229.317L497.992 2231.322L499.791 2233.326L501.59 2235.33L503.389 2237.334L505.188 2239.339L506.987 2241.343L508.787 2243.347L510.586 2245.351L512.385 2247.356L514.184 2249.36L515.983 2251.364L517.782 2253.368L519.582 2255.373L521.381 2257.377L523.18 2259.381L524.979 2261.386L526.778 2263.39L528.577 2265.394L530.377 2267.398L532.176 2269.403L533.975 2271.407L535.774 2273.411L537.573 2275.415L539.372 2277.42L541.172 2279.424L542.971 2281.428L544.77 2283.432L546.569 2285.437L548.368 2287.441L550.167 2289.445L551.967 2291.45L553.766 2293.454L555.565 2295.458L557.364 2297.462L559.163 2299.467L560.962 2301.471L562.762 2303.475L564.561 2305.479L566.36 2307.484L568.159 2309.488L569.958 2311.492L571.757 2313.497L573.556 2315.501L575.356 2317.505L577.155 2319.509L578.954 2321.514L580.753 2323.518L582.552 2325.522L584.351 2327.526L586.151 2329.531L587.95 2331.535L589.749 2333.539L591.548 2335.543L593.347 2337.548L595.146 2339.552L596.946 2341.556L598.745 2343.561L600.544 2345.565L602.343 2347.569L604.142 2349.573L605.941 2351.578L607.741 2353.582L609.54 2355.586L611.339 2357.59L613.138 2359.595L614.937 2361.599L616.736 2363.603L618.536 2365.607L620.335 2367.612L622.134 2369.616L623.933 2371.62L625.732 2373.625L627.531 2375.629L629.331 2377.633L631.13 2379.637L632.929 2381.642L634.728 2383.646L636.527 2385.65L638.326 2387.654L640.126 2389.659L641.925 2391.663L643.724 2393.667L645.523 2395.671L647.322 2397.676L649.121 2399.68L650.921 2401.684L652.72 2403.689L654.519 2405.693L656.318 2407.697L658.117 2409.701L659.916 2411.706L661.715 2413.71L663.515 2415.714L665.314 2417.718L667.113 2419.723L668.912 2421.727L670.711 2423.731L672.51 2425.736L674.31 2427.74L676.109 2429.744L677.908 2431.748L679.707 2433.753L681.506 2435.757L683.305 2437.761L685.105 2439.765L686.904 2441.77L688.703 2443.774L690.502 2445.778L692.301 2447.782L694.1 2449.787L695.9 2451.791L697.699 2453.795L699.498 2455.8L701.297 2457.804L703.096 2459.808L704.895 2461.812L706.695 2463.817L708.494 2465.821L710.293 2467.825L712.092 2469.829L713.891 2471.834L715.69 2473.838L717.49 2475.842L719.289 2477.846L721.088 2479.851L722.887 2481.855L724.686 2483.859L726.485 2485.864L728.285 2487.868L730.084 2489.872L731.883 2491.876L733.682 2493.881L735.481 2495.885L737.28 2497.889L739.079 2499.893L740.879 2501.898L742.678 2503.902L744.477 2505.906L746.276 2507.91L748.075 2509.915L749.874 2511.919L751.674 2513.923L753.473 2515.928L755.272 2517.932L757.071 2519.936L758.87 2521.94L760.669 2523.945L762.469 2525.949L764.268 2527.953L766.067 2529.957L767.866 2531.962L769.665 2533.966L771.464 2535.97L773.264 2537.975L775.063 2539.979L776.862 2541.983L778.661 2543.987L780.46 2545.992L782.259 2547.996L784.059 2550L785.858 2552.004L787.657 2554.009L789.456 2556.013L791.255 2558.017L793.054 2560.021L794.854 2562.026L796.653 2564.03L798.452 2566.034L800.251 2568.039L802.05 2570.043L803.849 2572.047L805.649 2574.051L807.448 2576.056L809.247 2578.06L811.046 2580.064L812.845 2582.068L814.644 2584.073L816.444 2586.077L818.243 2588.081L820.042 2590.085L821.841 2592.09L823.64 2594.094L825.439 2596.098L827.238 2598.103L829.038 2600.107L830.837 2602.111L832.636 2604.115L834.435 2606.12L836.234 2608.124L838.033 2610.128L839.833 2612.132L841.632 2614.137L843.431 2616.141L845.23 2618.145L847.029 2620.149L848.828 2622.154L850.628 2624.158L852.427 2626.162L854.226 2628.167L856.025 2630.171L857.824 2632.175L859.623 2634.179L861.423 2636.184L863.222 2638.188L865.021 2640.192L866.82 2642.196L868.619 2644.201L870.418 2646.205L872.218 2648.209L874.017 2650.214L875.816 2652.218L877.615 2654.222L879.414 2656.226L881.213 2658.231L883.013 2660.235L884.812 2662.239L886.611 2664.243L888.41 2666.248L890.209 2668.252L892.008 2670.256L893.808 2672.26L895.607 2674.265L897.406 2676.269L899.205 2678.273L901.004 2680.278L902.803 2682.282L904.603 2684.286L906.402 2686.29L908.201 2688.295L910 2690.299" fill="none" stroke="#1a6fdf" stroke-width="8.333" stroke-linecap="square" stroke-linejoin="round" clip-path="url(#c2)"/>
<path d="M1370 2682.103L1372.301 2680.845L1374.603 2679.587L1376.904 2678.328L1379.205 2677.068L1381.506 2675.807L1383.808 2674.545L1386.109 2673.283L1388.41 2672.02L1390.711 2670.756L1393.013 2669.491L1395.314 2668.225L1397.615 2666.959L1399.916 2665.692L1402.218 2664.424L1404.519 2663.155L1406.82 2661.886L1409.121 2660.616L1411.423 2659.345L1413.724 2658.074L1416.025 2656.802L1418.326 2655.529L1420.628 2654.256L1422.929 2652.982L1425.23 2651.707L1427.531 2650.431L1429.833 2649.155L1432.134 2647.879L1434.435 2646.601L1436.736 2645.324L1439.038 2644.045L1441.339 2642.766L1443.64 2641.487L1445.941 2640.206L1448.243 2638.926L1450.544 2637.644L1452.845 2636.363L1455.146 2635.08L1457.448 2633.798L1459.749 2632.514L1462.05 2631.23L1464.351 2629.946L1466.653 2628.661L1468.954 2627.376L1471.255 2626.09L1473.556 2624.804L1475.858 2623.518L1478.159 2622.231L1480.46 2620.943L1482.762 2619.656L1485.063 2618.367L1487.364 2617.079L1489.665 2615.79L1491.967 2614.5L1494.268 2613.211L1496.569 2611.921L1498.87 2610.63L1501.172 2609.34L1503.473 2608.048L1505.774 2606.757L1508.075 2605.465L1510.377 2604.174L1512.678 2602.881L1514.979 2601.589L1517.28 2600.296L1519.582 2599.003L1521.883 2597.71L1524.184 2596.416L1526.485 2595.123L1528.787 2593.829L1531.088 2592.534L1533.389 2591.24L1535.69 2589.946L1537.992 2588.651L1540.293 2587.356L1542.594 2586.061L1544.895 2584.766L1547.197 2583.471L1549.498 2582.175L1551.799 2580.88L1554.1 2579.584L1556.402 2578.288L1558.703 2576.992L1561.004 2575.696L1563.305 2574.4L1565.607 2573.104L1567.908 2571.808L1570.209 2570.512L1572.51 2569.216L1574.812 2567.92L1577.113 2566.624L1579.414 2565.327L1581.715 2564.031L1584.017 2562.735L1586.318 2561.439L1588.619 2560.143L1590.921 2558.847L1593.222 2557.551L1595.523 2556.255L1597.824 2554.959L1600.126 2553.663L1602.427 2552.367L1604.728 2551.072L1607.029 2549.776L1609.331 2548.481L1611.632 2547.186L1613.933 2545.891L1616.234 2544.596L1618.536 2543.301L1620.837 2542.006L1623.138 2540.712L1625.439 2539.418L1627.741 2538.124L1630.042 2536.83L1632.343 2535.536L1634.644 2534.243L1636.946 2532.95L1639.247 2531.657L1641.548 2530.364L1643.849 2529.072L1646.151 2527.78L1648.452 2526.488L1650.753 2525.196L1653.054 2523.905L1655.356 2522.614L1657.657 2521.324L1659.958 2520.034L1662.259 2518.744L1664.561 2517.454L1666.862 2516.165L1669.163 2514.876L1671.464 2513.588L1673.766 2512.3L1676.067 2511.012L1678.368 2509.725L1680.669 2508.438L1682.971 2507.152L1685.272 2505.866L1687.573 2504.581L1689.874 2503.296L1692.176 2502.011L1694.477 2500.727L1696.778 2499.444L1699.079 2498.161L1701.381 2496.878L1703.682 2495.596L1705.983 2494.314L1708.285 2493.034L1710.586 2491.753L1712.887 2490.473L1715.188 2489.194L1717.49 2487.915L1719.791 2486.637L1722.092 2485.36L1724.393 2484.083L1726.695 2482.806L1728.996 2481.531L1731.297 2480.256L1733.598 2478.981L1735.9 2477.707L1738.201 2476.434L1740.502 2475.162L1742.803 2473.89L1745.105 2472.619L1747.406 2471.349L1749.707 2470.079L1752.008 2468.81L1754.31 2467.542L1756.611 2466.275L1758.912 2465.008L1761.213 2463.742L1763.515 2462.477L1765.816 2461.212L1768.117 2459.949L1770.418 2458.686L1772.72 2457.424L1775.021 2456.163L1777.322 2454.903L1779.623 2453.643L1781.925 2452.384L1784.226 2451.127L1786.527 2449.87L1788.828 2448.613L1791.13 2447.358L1793.431 2446.104L1795.732 2444.851L1798.033 2443.598L1800.335 2442.347L1802.636 2441.096L1804.937 2439.846L1807.238 2438.597L1809.54 2437.35L1811.841 2436.103L1814.142 2434.857L1816.444 2433.612L1818.745 2432.368L1821.046 2431.126L1823.347 2429.884L1825.649 2428.643L1827.95 2427.403L1830.251 2426.165L1832.552 2424.927L1834.854 2423.69L1837.155 2422.455L1839.456 2421.221L1841.757 2419.987L1844.059 2418.755L1846.36 2417.524L1848.661 2416.294L1850.962 2415.065L1853.264 2413.837L1855.565 2412.611L1857.866 2411.386L1860.167 2410.161L1862.469 2408.938L1864.77 2407.717L1867.071 2406.496L1869.372 2405.277L1871.674 2404.058L1873.975 2402.841L1876.276 2401.626L1878.577 2400.411L1880.879 2399.198L1883.18 2397.986L1885.481 2396.776L1887.782 2395.566L1890.084 2394.358L1892.385 2393.151L1894.686 2391.946L1896.987 2390.742L1899.289 2389.539L1901.59 2388.338L1903.891 2387.138L1906.192 2385.939L1908.494 2384.742L1910.795 2383.546L1913.096 2382.351L1915.397 2381.158L1917.699 2379.966L1920 2378.776" fill="none" stroke="#37ad6b" stroke-width="8.333" stroke-linecap="square" stroke-linejoin="round" clip-path="url(#c2)"/>
<path d="M480 2670L480 1447" fill="none" stroke="#000000" stroke-width="4.167" stroke-linecap="square"/>
<path d="M1920 2670L1920 1447" fill="none" stroke="#000000" stroke-width="4.167" stroke-linecap="square"/>
<path d="M480 2670L1920 2670" fill="none" stroke="#000000" stroke-width="4.167" stroke-linecap="square"/>
<path d="M480 1447L1920 1447" fill="none" stroke="#000000" stroke-width="4.167" stroke-linecap="square"/>
<path d="M1963.333 1825.792L2319.205 1825.792Q2329.205 1825.792 2329.205 1815.792L2329.205 1490.392Q2329.205 1480.392 2319.205 1480.392L1963.333 1480.392Q1953.333 1480.392 1953.333 1490.392L1953.333 1815.792Q1953.333 1825.792 1963.333 1825.792Z" fill="#4d4d4d" fill-opacity="0.5" stroke="#4d4d4d" stroke-width="4.167" stroke-opacity="0.5"/>
<path d="M1955 1817L2311 1817Q2321 1817 2321 1807L2321 1482Q2321 1472 2311 1472L1955 1472Q1945 1472 1945 1482L1945 1807Q1945 1817 1955 1817Z" fill="#ffffff" stroke="#cccccc" stroke-width="4.167"/>
<path d="M1965 1521L2015 1521L2065 1521" fill="none" stroke="#515151" stroke-width="8.333" stroke-linecap="square" stroke-linejoin="round"/>
<path d="M1965 1604L2015 1604L2065 1604" fill="none" stroke="#f14040" stroke-width="8.333" stroke-linecap="square" stroke-linejoin="round"/>
<path d="M1965 1687L2015 1687L2065 1687" fill="none" stroke="#1a6fdf" stroke-width="8.333" stroke-linecap="square" stroke-linejoin="round"/>
<path d="M1965 1769L2015 1769L2065 1769" fill="none" stroke="#37ad6b" stroke-width="8.333" stroke-linecap="square" stroke-linejoin="round"/>
</svg>
<svg id="labels" xmlns="http://www.w3.org/2000/svg" width="2400" height="3000" viewBox="0 0 2400 3000">
<g font-family="Liberation Sans" font-size="100"><g aria-label="0.8"><text transform="matrix(0.70276 0.00000 0.00000 0.71218 361.220 791.516)">0</text><text transform="matrix(0.72137 0.00000 0.00000 0.77321 402.528 791.268)">.</text><text transform="matrix(0.71037 0.00000 0.00000 0.71218 424.615 791.516)">8</text></g>
<g aria-label="0.9"><text transform="matrix(0.70276 0.00000 0.00000 0.71218 361.285 632.516)">0</text><text transform="matrix(0.72137 0.00000 0.00000 0.77321 402.593 632.268)">.</text><text transform="matrix(0.72586 0.00000 0.00000 0.71218 424.039 632.516)">9</text></g>
<g aria-label="1.0"><text transform="matrix(0.67120 0.00000 0.00000 0.70641 361.752 473.268)">1</text><text transform="matrix(0.72137 0.00000 0.00000 0.77321 402.498 473.268)">.</text><text transform="matrix(0.70276 0.00000 0.00000 0.71218 424.797 473.516)">0</text></g>
<g aria-label="E_F (eV)"><text transform="matrix(0.00000 -0.60045 0.70641 0.00000 326.297 675.975)">E</text><text transform="matrix(0.00000 -0.42031 0.49449 0.00000 337.289 634.388)" font-style="italic">F</text><text transform="matrix(0.00000 -0.56354 0.63732 0.00000 321.891 582.170)">(</text><text transform="matrix(0.00000 -0.72008 0.69875 0.00000 326.559 557.792)">e</text><text transform="matrix(0.00000 -0.67656 0.70641 0.00000 326.297 517.198)">V</text><text transform="matrix(0.00000 -0.56354 0.63732 0.00000 321.891 466.837)">)</text></g>
<g aria-label="E_F"><text transform="matrix(0.45034 0.00000 0.00000 0.52981 2106.492 442.124)">E</text><text transform="matrix(0.31524 0.00000 0.00000 0.37087 2137.700 450.327)" font-style="italic">F</text></g>
<g aria-label="{10^{0}}"><text transform="matrix(0.67120 0.00000 0.00000 0.70641 354.044 1335.670)">1</text><text transform="matrix(0.70276 0.00000 0.00000 0.71218 395.871 1335.918)">0</text><text transform="matrix(0.49193 0.00000 0.00000 0.49853 438.406 1310.195)">0</text></g>
<g aria-label="{10^{3}}"><text transform="matrix(0.67120 0.00000 0.00000 0.70641 354.863 1132.170)">1</text><text transform="matrix(0.70276 0.00000 0.00000 0.71218 396.690 1132.418)">0</text><text transform="matrix(0.47243 0.00000 0.00000 0.49853 439.826 1106.695)">3</text></g>
<g aria-label="{10^{6}}"><text transform="matrix(0.67120 0.00000 0.00000 0.70641 353.964 929.170)">1</text><text transform="matrix(0.70276 0.00000 0.00000 0.71218 395.791 929.418)">0</text><text transform="matrix(0.50914 0.00000 0.00000 0.49853 437.845 903.695)">6</text></g>
<g aria-label="n_{carrier} (cm^{-3})"><text transform="matrix(0.00000 -0.71877 0.69389 0.00000 318.815 1325.395)">n</text><text transform="matrix(0.00000 -0.50164 0.48913 0.00000 329.991 1283.308)" font-style="italic">c</text><text transform="matrix(0.00000 -0.47260 0.48913 0.00000 329.991 1257.315)" font-style="italic">a</text><text transform="matrix(0.00000 -0.57015 0.48572 0.00000 329.808 1228.894)" font-style="italic">r</text><text transform="matrix(0.00000 -0.57015 0.48572 0.00000 329.808 1209.720)" font-style="italic">r</text><text transform="matrix(0.00000 -0.48561 0.48931 0.00000 329.808 1190.382)" font-style="italic">i</text><text transform="matrix(0.00000 -0.50469 0.48913 0.00000 329.991 1177.841)" font-style="italic">e</text><text transform="matrix(0.00000 -0.57015 0.48572 0.00000 329.808 1148.895)" font-style="italic">r</text><text transform="matrix(0.00000 -0.56354 0.63732 0.00000 314.410 1105.171)">(</text><text transform="matrix(0.00000 -0.66893 0.69875 0.00000 319.077 1080.576)">c</text><text transform="matrix(0.00000 -0.75958 0.69389 0.00000 318.815 1043.771)">m</text><text transform="matrix(0.00000 -0.60127 0.54338 0.00000 296.606 977.260)">−</text><text transform="matrix(0.00000 -0.47243 0.49853 0.00000 293.341 938.407)">3</text><text transform="matrix(0.00000 -0.56354 0.63732 0.00000 314.410 903.650)">)</text></g>
<g aria-label="p_0"><text transform="matrix(0.54397 0.00000 0.00000 0.51540 2106.684 986.506)">p</text><text transform="matrix(0.36895 0.00000 0.00000 0.37390 2138.732 995.135)">0</text></g>
<g aria-label="n_0"><text transform="matrix(0.53908 0.00000 0.00000 0.52042 2106.635 1061.152)">n</text><text transform="matrix(0.36895 0.00000 0.00000 0.37390 2138.707 1069.486)">0</text></g>
<g aria-label="1"><text transform="matrix(0.67120 0.00000 0.00000 0.70641 490.418 2736.300)">1</text></g>
<g aria-label="2"><text transform="matrix(0.67738 0.00000 0.00000 0.70862 1871.164 2736.240)">2</text></g>
<g aria-label="{10^{0}}"><text transform="matrix(0.67120 0.00000 0.00000 0.70641 354.044 2694.670)">1</text><text transform="matrix(0.70276 0.00000 0.00000 0.71218 395.871 2694.918)">0</text><text transform="matrix(0.49193 0.00000 0.00000 0.49853 438.406 2669.195)">0</text></g>
<g aria-label="{10^{1}}"><text transform="matrix(0.67120 0.00000 0.00000 0.70641 356.148 2491.362)">1</text><text transform="matrix(0.70276 0.00000 0.00000 0.71218 397.975 2491.611)">0</text><text transform="matrix(0.46984 0.00000 0.00000 0.49449 440.903 2465.714)">1</text></g>
<g aria-label="{10^{2}}"><text transform="matrix(0.67120 0.00000 0.00000 0.70641 355.830 2287.670)">1</text><text transform="matrix(0.70276 0.00000 0.00000 0.71218 397.657 2287.918)">0</text><text transform="matrix(0.47417 0.00000 0.00000 0.49604 440.071 2262.021)">2</text></g>
<g aria-label="{10^{3}}"><text transform="matrix(0.67120 0.00000 0.00000 0.70641 354.863 2084.170)">1</text><text transform="matrix(0.70276 0.00000 0.00000 0.71218 396.690 2084.418)">0</text><text transform="matrix(0.47243 0.00000 0.00000 0.49853 439.826 2058.695)">3</text></g>
<g aria-label="{10^{4}}"><text transform="matrix(0.67120 0.00000 0.00000 0.70641 354.305 1880.362)">1</text><text transform="matrix(0.70276 0.00000 0.00000 0.71218 396.132 1880.611)">0</text><text transform="matrix(0.49199 0.00000 0.00000 0.49449 438.662 1854.714)">4</text></g>
<g aria-label="{10^{5}}"><text transform="matrix(0.67120 0.00000 0.00000 0.70641 355.034 1676.362)">1</text><text transform="matrix(0.70276 0.00000 0.00000 0.71218 396.861 1676.611)">0</text><text transform="matrix(0.46426 0.00000 0.00000 0.49704 439.983 1650.889)">5</text></g>
<g aria-label="{10^{6}}"><text transform="matrix(0.67120 0.00000 0.00000 0.70641 353.964 1472.170)">1</text><text transform="matrix(0.70276 0.00000 0.00000 0.71218 395.791 1472.418)">0</text><text transform="matrix(0.50914 0.00000 0.00000 0.49853 437.845 1446.695)">6</text></g>
<g aria-label="n_{defect} (cm^{-3})"><text transform="matrix(0.00000 -0.71877 0.69389 0.00000 318.815 2274.366)">n</text><text transform="matrix(0.00000 -0.50445 0.49147 0.00000 329.964 2232.338)" font-style="italic">d</text><text transform="matrix(0.00000 -0.50469 0.48913 0.00000 329.991 2202.735)" font-style="italic">e</text><text transform="matrix(0.00000 -0.57903 0.48931 0.00000 329.808 2173.267)" font-style="italic">f</text><text transform="matrix(0.00000 -0.50469 0.48913 0.00000 329.991 2157.623)" font-style="italic">e</text><text transform="matrix(0.00000 -0.50164 0.48913 0.00000 329.991 2128.871)" font-style="italic">c</text><text transform="matrix(0.00000 -0.59917 0.49931 0.00000 329.320 2103.094)" font-style="italic">t</text><text transform="matrix(0.00000 -0.56354 0.63732 0.00000 314.410 2060.199)">(</text><text transform="matrix(0.00000 -0.66893 0.69875 0.00000 319.077 2035.604)">c</text><text transform="matrix(0.00000 -0.75958 0.69389 0.00000 318.815 1998.800)">m</text><text transform="matrix(0.00000 -0.60127 0.54338 0.00000 296.606 1932.289)">−</text><text transform="matrix(0.00000 -0.47243 0.49853 0.00000 293.341 1893.436)">3</text><text transform="matrix(0.00000 -0.56354 0.63732 0.00000 314.410 1858.679)">)</text></g>
<g aria-label="Ge_{P1}^{1-}"><text transform="matrix(0.48766 0.00000 0.00000 0.53414 2105.996 1538.913)">G</text><text transform="matrix(0.54006 0.00000 0.00000 0.52406 2144.851 1538.923)">e</text><text transform="matrix(0.31907 0.00000 0.00000 0.37087 2175.585 1546.929)" font-style="italic">P</text><text transform="matrix(0.35238 0.00000 0.00000 0.37087 2197.894 1546.929)">1</text><text transform="matrix(0.35238 0.00000 0.00000 0.37087 2222.008 1519.586)">1</text><text transform="matrix(0.45095 0.00000 0.00000 0.40753 2251.418 1522.165)">−</text></g>
<g aria-label="Zn_{Ge1}^{2-}"><text transform="matrix(0.54323 0.00000 0.00000 0.52981 2106.452 1621.209)">Z</text><text transform="matrix(0.53908 0.00000 0.00000 0.52042 2141.144 1621.209)">n</text><text transform="matrix(0.34726 0.00000 0.00000 0.37390 2172.211 1629.543)" font-style="italic">G</text><text transform="matrix(0.37852 0.00000 0.00000 0.36684 2199.804 1629.550)" font-style="italic">e</text><text transform="matrix(0.35238 0.00000 0.00000 0.37087 2222.167 1629.412)">1</text><text transform="matrix(0.35563 0.00000 0.00000 0.37203 2245.894 1602.069)">2</text><text transform="matrix(0.45095 0.00000 0.00000 0.40753 2275.691 1604.648)">−</text></g>
<g aria-label="Ge_{P1}^{0}"><text transform="matrix(0.48766 0.00000 0.00000 0.53414 2105.877 1703.143)">G</text><text transform="matrix(0.54006 0.00000 0.00000 0.52406 2144.731 1703.153)">e</text><text transform="matrix(0.31907 0.00000 0.00000 0.37087 2175.466 1711.160)" font-style="italic">P</text><text transform="matrix(0.35238 0.00000 0.00000 0.37087 2197.774 1711.160)">1</text><text transform="matrix(0.36895 0.00000 0.00000 0.37390 2221.593 1683.947)">0</text></g>
<g aria-label="P_{Ge1}^{1+}"><text transform="matrix(0.45034 0.00000 0.00000 0.52981 2106.491 1784.979)">P</text><text transform="matrix(0.34726 0.00000 0.00000 0.37390 2135.984 1793.312)" font-style="italic">G</text><text transform="matrix(0.37852 0.00000 0.00000 0.36684 2163.577 1793.319)" font-style="italic">e</text><text transform="matrix(0.35238 0.00000 0.00000 0.37087 2185.941 1793.182)">1</text><text transform="matrix(0.35238 0.00000 0.00000 0.37087 2210.054 1765.838)">1</text><text transform="matrix(0.45095 0.00000 0.00000 0.44850 2239.487 1769.780)">+</text></g></g>
</svg>
</body></html>
